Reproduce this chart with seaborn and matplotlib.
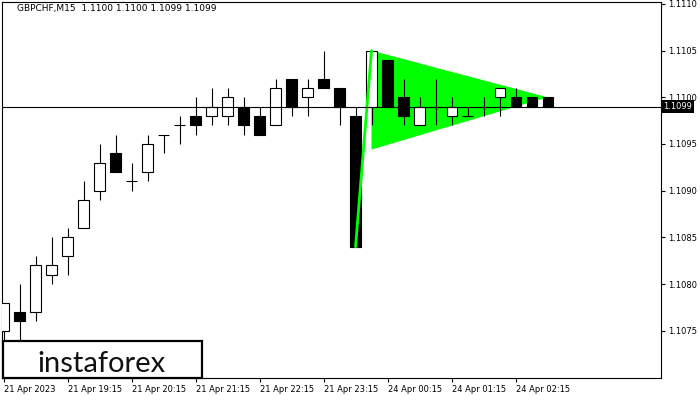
import matplotlib
matplotlib.use("Agg")
import numpy as np
import seaborn as sns
from matplotlib import pyplot as plt
from matplotlib.patches import Rectangle, Polygon
from matplotlib.transforms import blended_transform_factory

# 15-minute bars, 21 Apr 18:15 .. 24 Apr 02:45
open_ = [1.1075, 1.1077, 1.1077, 1.1081, 1.1083, 1.1086, 1.1090, 1.1094, 1.1091, 1.1092,
         1.1096, 1.1097, 1.1098, 1.1098, 1.1098, 1.1099, 1.1098, 1.1097, 1.1102, 1.1100,
         1.1102, 1.1101, 1.1098, 1.1099, 1.1104, 1.1100, 1.1097, 1.1099, 1.1098, 1.1098,
         1.1099, 1.1100, 1.1100, 1.1100, 1.1100]
high = [1.1078, 1.1080, 1.1083, 1.1085, 1.1086, 1.1091, 1.1095, 1.1096, 1.1093, 1.1096,
        1.1096, 1.1098, 1.1100, 1.1101, 1.1101, 1.1100, 1.1099, 1.1102, 1.1102, 1.1102,
        1.1105, 1.1101, 1.1099, 1.1105, 1.1104, 1.1102, 1.1100, 1.1102, 1.1100, 1.1099,
        1.1100, 1.1101, 1.1101, 1.1100, 1.1100]
low = [1.1074, 1.1073, 1.1076, 1.1080, 1.1081, 1.1086, 1.1089, 1.1092, 1.1090, 1.1091,
       1.1094, 1.1095, 1.1096, 1.1097, 1.1097, 1.1096, 1.1096, 1.1097, 1.1098, 1.1098,
       1.1101, 1.1097, 1.1084, 1.1097, 1.1099, 1.1097, 1.1097, 1.1097, 1.1097, 1.1098,
       1.1098, 1.1098, 1.1099, 1.1099, 1.1099]
close = [1.1078, 1.1076, 1.1082, 1.1082, 1.1085, 1.1089, 1.1093, 1.1092, 1.1091, 1.1095,
         1.1096, 1.1097, 1.1097, 1.1099, 1.1100, 1.1097, 1.1096, 1.1101, 1.1099, 1.1101,
         1.1101, 1.1099, 1.1084, 1.1105, 1.1099, 1.1098, 1.1099, 1.1099, 1.1099, 1.1098,
         1.1099, 1.1101, 1.1099, 1.1099, 1.1099]

xtick_pos = [0, 4, 8, 12, 16, 20, 24, 28, 32]
xtick_labels = ["21 Apr 2023", "21 Apr 19:15", "21 Apr 20:15", "21 Apr 21:15", "21 Apr 22:15",
                "21 Apr 23:15", "24 Apr 00:15", "24 Apr 01:15", "24 Apr 02:15"]
ytick_vals = [1.1075, 1.1080, 1.1085, 1.1090, 1.1095, 1.1100, 1.1105, 1.1110]

# bullish pennant
pole_x = [22, 23]
pole_y = [1.1084, 1.1105]
pennant_x = [23, 23, 34]
pennant_y = [1.1105, 1.10944, 1.1100]
last_price = 1.1099

sns.set_theme(style="white")
plt.rcParams['font.family'] = ['DejaVu Sans']
plt.rcParams['text.color'] = 'black'
plt.rcParams['xtick.color'] = 'black'
plt.rcParams['ytick.color'] = 'black'

fig = plt.figure(figsize=(7, 4), dpi=100)
ax = fig.add_axes([2 / 700, 22 / 400, 659 / 700, 376 / 400])

ax.add_patch(Polygon(list(zip(pennant_x, pennant_y)), closed=True, facecolor="#00ff00",
                     edgecolor="none", zorder=1))

idx = np.arange(len(open_))
ax.vlines(idx, low, high, color="black", linewidth=0.8, zorder=2)
w = 0.63
for i in idx:
    o, c = open_[i], close[i]
    if abs(c - o) < 1e-9:
        ax.hlines(o, i - w / 2 - 0.03, i + w / 2 + 0.03, color="black", linewidth=0.8, zorder=3)
        continue
    face = "white" if c > o else "black"
    ax.add_patch(Rectangle((i - w / 2, min(o, c)), w, abs(c - o), facecolor=face,
                           edgecolor="black", linewidth=0.8, zorder=3))

sns.lineplot(x=pole_x, y=pole_y, color="#00ff00", linewidth=2.0, ax=ax, zorder=4)
ax.axhline(last_price, color="black", linewidth=0.8, zorder=5)

ax.set_xlim(-0.094, 41.09)
ax.set_ylim(1.106995, 1.111020)

ax.set_xticks(xtick_pos)
ax.set_xticklabels(xtick_labels, fontsize=6, ha="left", color="black")
ax.set_yticks(ytick_vals)
ax.set_yticklabels([f"{v:.4f}" for v in ytick_vals], fontsize=6, color="black")
ax.yaxis.tick_right()
ax.tick_params(axis="x", length=3, width=0.8, pad=2, color="black", bottom=True)
ax.tick_params(axis="y", length=3, width=0.8, pad=2, color="black", right=True, left=False)
for s in ax.spines.values():
    s.set_color("black")
    s.set_linewidth(0.8)

tr = blended_transform_factory(ax.transAxes, ax.transData)
ax.text(1.003, last_price, f"{last_price:.4f}", transform=tr, fontsize=6, color="white",
        va="center", ha="left",
        bbox=dict(boxstyle="square,pad=0.25", facecolor="black", edgecolor="none"))

fig.text(17 / 700, 1 - 8.5 / 400, "GBPCHF,M15  1.1100 1.1100 1.1099 1.1099", fontsize=6.5,
         va="center", ha="left", color="black")

fig.add_artist(Rectangle((2.7 / 700, 22.3 / 400), 199 / 700, 37 / 400, transform=fig.transFigure,
                         facecolor="white", edgecolor="black", linewidth=1.6, zorder=10))
fig.text(101 / 700, 1 - 371.5 / 400, "instaforex", fontsize=21, family=["Lato", "DejaVu Sans"],
         ha="center", va="baseline", color="#111111", zorder=11)

fig.savefig("out.png", dpi=100)
